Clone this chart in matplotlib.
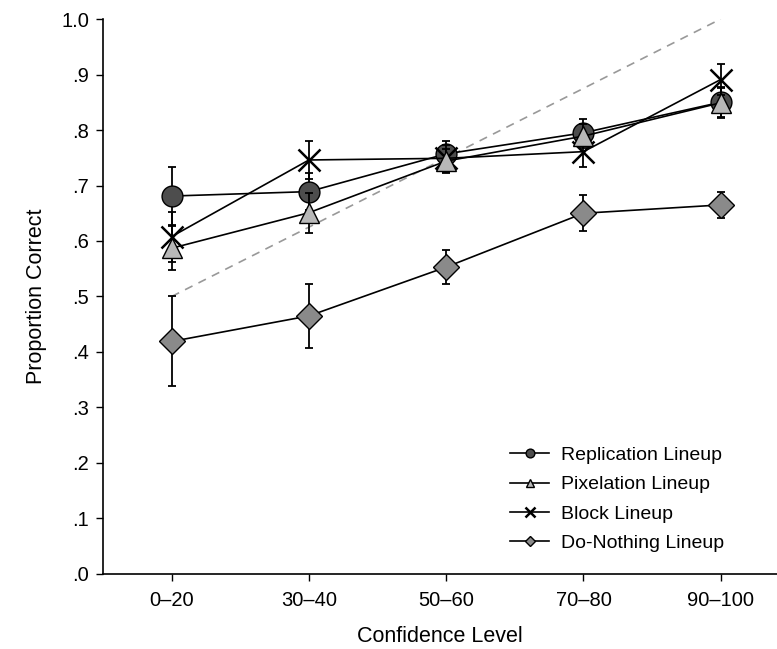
import matplotlib
matplotlib.use("Agg")
import matplotlib.pyplot as plt
import numpy as np

plt.rcParams['font.family'] = ['Liberation Sans', 'DejaVu Sans']

levels = ["0–20", "30–40", "50–60", "70–80", "90–100"]

replication = [0.681, 0.689, 0.757, 0.795, 0.850]
replication_err = [0.053, 0.033, 0.023, 0.024, 0.027]

pixelation = [0.587, 0.651, 0.744, 0.789, 0.849]
pixelation_err = [0.040, 0.036, 0.021, 0.022, 0.027]

block = [0.608, 0.746, 0.749, 0.761, 0.891]
block_err = [0.045, 0.035, 0.024, 0.028, 0.028]

nothing = [0.419, 0.465, 0.553, 0.650, 0.665]
nothing_err = [0.081, 0.058, 0.030, 0.032, 0.024]

calib_x = [0, 4]
calib_y = [0.5, 1.0]

fig = plt.figure(figsize=(7.77, 6.49), dpi=100)
ax = fig.add_axes([0.1326, 0.1156, 0.8674, 0.8551])

x = np.arange(len(levels))

ax.plot(calib_x, calib_y, color="#999999", lw=1.2, ls=(0, (5, 4)), zorder=1)

series = [
    ("Replication Lineup", replication, replication_err, "o", "#4d4d4d", 15),
    ("Block Lineup", block, block_err, "x", "black", 16),
    ("Pixelation Lineup", pixelation, pixelation_err, "^", "#b8b8b8", 15),
    ("Do-Nothing Lineup", nothing, nothing_err, "D", "#8a8a8a", 13),
]

handles = {}
for i, (name, vals, err, mk, fc, ms) in enumerate(series):
    ax.errorbar(x, vals, yerr=err, fmt="none", ecolor="black", elinewidth=1.3,
                capsize=3.2, capthick=1.3, zorder=2 + i)
    mew = 1.8 if mk == "x" else 1.0
    ln, = ax.plot(x, vals, color="black", lw=1.2, marker=mk, markersize=ms,
                  markerfacecolor=fc, markeredgecolor="black", markeredgewidth=mew,
                  zorder=2 + i, label=name)
    handles[name] = ln

order = ["Replication Lineup", "Pixelation Lineup", "Block Lineup", "Do-Nothing Lineup"]
leg = ax.legend([handles[n] for n in order], order, loc="lower right",
                bbox_to_anchor=(0.947, 0.008), frameon=False, fontsize=14,
                markerscale=0.42, handlelength=2.0, labelspacing=0.6,
                handletextpad=0.6)

ax.set_xlim(-0.5, 4.41)
ax.set_ylim(0, 1.0)
ax.set_xticks(x)
ax.set_xticklabels(levels)
yt = np.round(np.arange(0, 1.01, 0.1), 1)
ax.set_yticks(yt)
ax.set_yticklabels([".0", ".1", ".2", ".3", ".4", ".5", ".6", ".7", ".8", ".9", "1.0"])
ax.tick_params(labelsize=14.5, length=5, width=1, color="black")
ax.tick_params(axis="x", pad=7)
ax.tick_params(axis="y", pad=5)

ax.spines["top"].set_visible(False)
ax.spines["right"].set_visible(False)
for s in ["left", "bottom"]:
    ax.spines[s].set_linewidth(1.2)

ax.set_xlabel("Confidence Level", fontsize=15.5, labelpad=12)
ax.set_ylabel("Proportion Correct", fontsize=15.5, labelpad=10)

fig.savefig("out.png", dpi=100)
